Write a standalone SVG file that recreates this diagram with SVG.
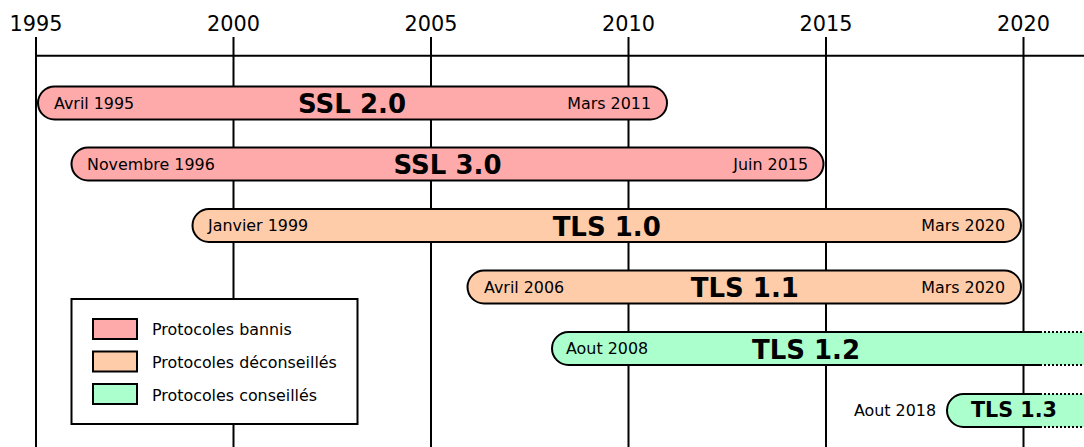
<svg xmlns="http://www.w3.org/2000/svg" width="1084" height="447" viewBox="0 0 1084 447">
<style>
.grid{stroke:#000;stroke-width:2;fill:none}
.yr{font-family:"DejaVu Sans",sans-serif;font-size:20.8px;text-anchor:middle;fill:#000}
.bar{stroke:#000;stroke-width:2}
.ban{fill:#ffaaaa}
.dep{fill:#ffccaa}
.ok{fill:#aaffcc}
.sm{font-family:"DejaVu Sans",sans-serif;font-size:15.9px;fill:#000}
.end{text-anchor:end}
.ttl{font-family:"DejaVu Sans",sans-serif;font-size:26px;font-weight:bold;text-anchor:middle;fill:#000}
.dot{stroke:#000;stroke-width:2;stroke-dasharray:2 2;fill:none}
</style>
<rect width="1084" height="447" fill="#fff"/>
<g id="axis">
<line class="grid" x1="36" y1="37" x2="36" y2="447"/>
<line class="grid" x1="233.5" y1="37" x2="233.5" y2="447"/>
<line class="grid" x1="431" y1="37" x2="431" y2="447"/>
<line class="grid" x1="628.5" y1="37" x2="628.5" y2="447"/>
<line class="grid" x1="826" y1="37" x2="826" y2="447"/>
<line class="grid" x1="1023.5" y1="37" x2="1023.5" y2="447"/>
<line class="grid" x1="36" y1="55.7" x2="1084" y2="55.7"/>
<text class="yr" x="36" y="31">1995</text>
<text class="yr" x="233.5" y="31">2000</text>
<text class="yr" x="431" y="31">2005</text>
<text class="yr" x="628.5" y="31">2010</text>
<text class="yr" x="826" y="31">2015</text>
<text class="yr" x="1023.5" y="31">2020</text>
</g>
<g id="ssl20">
<rect class="bar ban" x="38" y="86.5" width="629" height="33" rx="16.5"/>
<text class="sm" x="54" y="108.6">Avril 1995</text>
<text class="sm end" x="651" y="108.6">Mars 2011</text>
<text class="ttl" x="352" y="113.3">SSL 2.0</text>
</g>
<g id="ssl30">
<rect class="bar ban" x="71.5" y="147.5" width="752" height="33" rx="16.5"/>
<text class="sm" x="87" y="169.6">Novembre 1996</text>
<text class="sm end" x="808" y="169.6">Juin 2015</text>
<text class="ttl" x="447.5" y="174.3">SSL 3.0</text>
</g>
<g id="tls10">
<rect class="bar dep" x="192.5" y="209" width="828.5" height="33" rx="16.5"/>
<text class="sm" x="208" y="231">Janvier 1999</text>
<text class="sm end" x="1005" y="231">Mars 2020</text>
<text class="ttl" x="606.7" y="235.8">TLS 1.0</text>
</g>
<g id="tls11">
<rect class="bar dep" x="467.5" y="270.5" width="553.5" height="33" rx="16.5"/>
<text class="sm" x="484" y="292.6">Avril 2006</text>
<text class="sm end" x="1005" y="292.6">Mars 2020</text>
<text class="ttl" x="744.8" y="297.3">TLS 1.1</text>
</g>
<g id="tls12">
<path class="ok" d="M1084,332 H568.5 A16.5,16.5 0 0 0 568.5,365 H1084 Z"/>
<path class="grid" d="M1040,332 H568.5 A16.5,16.5 0 0 0 568.5,365 H1040"/>
<path class="dot" d="M1040,332 H1084 M1040,365 H1084"/>
<text class="sm" x="566" y="354">Aout 2008</text>
<text class="ttl" x="806" y="358.8">TLS 1.2</text>
</g>
<g id="tls13">
<path class="ok" d="M1084,394 H963.5 A16.5,16.5 0 0 0 963.5,427 H1084 Z"/>
<path class="grid" d="M1040,394 H963.5 A16.5,16.5 0 0 0 963.5,427 H1040"/>
<path class="dot" d="M1040,394 H1084 M1040,427 H1084"/>
<text class="sm end" x="936" y="416">Aout 2018</text>
<text class="ttl" x="1014" y="417.3" style="font-size:20.7px">TLS 1.3</text>
</g>
<g id="legend">
<rect x="71.5" y="299" width="286" height="125" fill="#fff" stroke="#000" stroke-width="2"/>
<rect class="bar ban" x="93" y="319" width="44" height="20"/>
<rect class="bar dep" x="93" y="351.5" width="44" height="20"/>
<rect class="bar ok" x="93" y="384" width="44" height="20"/>
<text class="sm" x="152" y="334.5">Protocoles bannis</text>
<text class="sm" x="152" y="367.5">Protocoles déconseillés</text>
<text class="sm" x="152" y="400.5">Protocoles conseillés</text>
</g>
</svg>
